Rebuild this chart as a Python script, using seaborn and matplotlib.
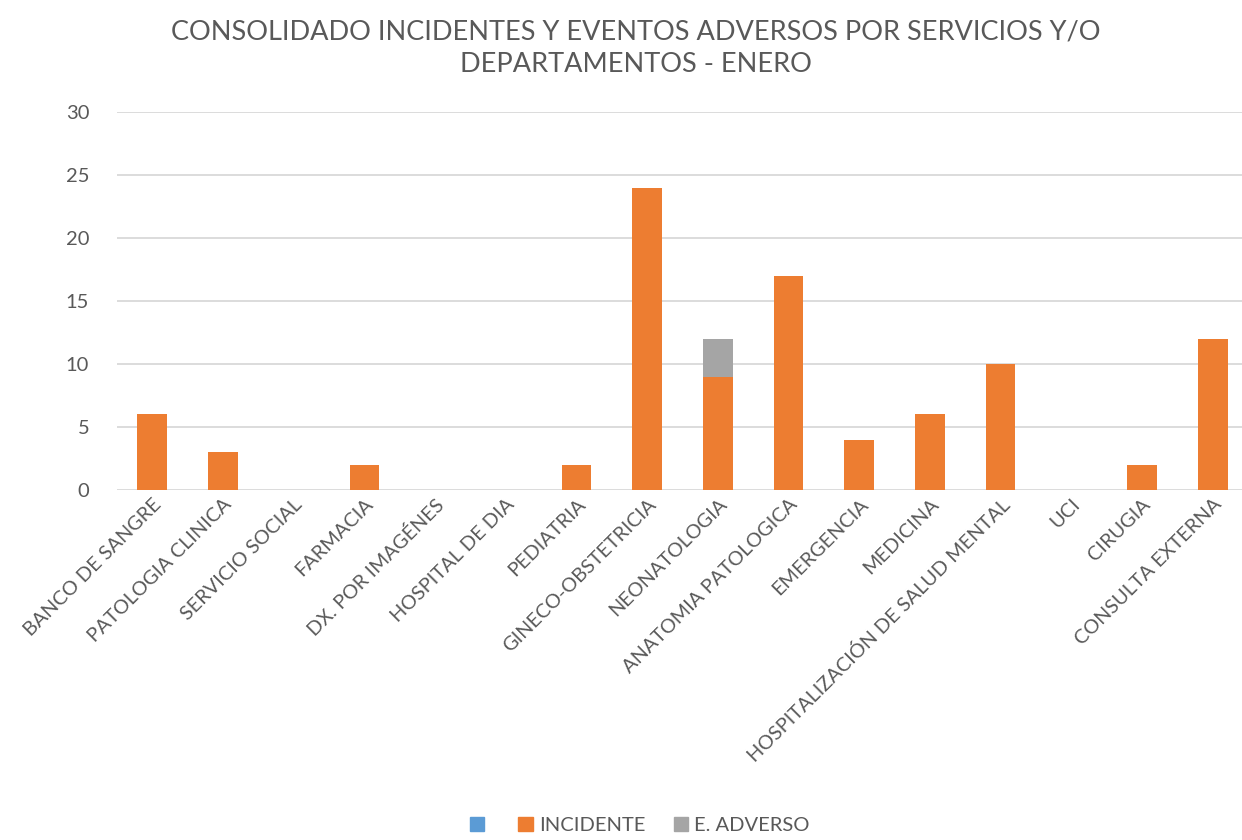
import matplotlib
matplotlib.use("Agg")
import matplotlib.pyplot as plt
import seaborn as sns
import pandas as pd
from matplotlib.patches import Patch

categories = ["BANCO DE SANGRE", "PATOLOGIA CLINICA", "SERVICIO SOCIAL", "FARMACIA",
              "DX. POR IMAGÉNES", "HOSPITAL DE DIA", "PEDIATRIA", "GINECO-OBSTETRICIA",
              "NEONATOLOGIA", "ANATOMIA PATOLOGICA", "EMERGENCIA", "MEDICINA",
              "HOSPITALIZACIÓN DE SALUD MENTAL", "UCI", "CIRUGIA", "CONSULTA EXTERNA"]
serie_blank = [0, 0, 0, 0, 0, 0, 0, 0, 0, 0, 0, 0, 0, 0, 0, 0]
incidente = [6, 3, 0, 2, 0, 0, 2, 24, 9, 17, 4, 6, 10, 0, 2, 12]
e_adverso = [0, 0, 0, 0, 0, 0, 0, 0, 3, 0, 0, 0, 0, 0, 0, 0]
yticks = [0, 5, 10, 15, 20, 25, 30]

sns.set_theme(style="white")
plt.rcParams['font.family'] = ['Lato', 'DejaVu Sans']

C_BLUE = "#5B9BD5"
C_ORANGE = "#ED7D31"
C_GRAY = "#A5A5A5"
TXT = "#595959"

df = pd.DataFrame({
    "cat": categories,
    "blank": serie_blank,
    "inc": incidente,
    "adv": e_adverso,
})
df["base_inc"] = df["blank"] + df["inc"]
df["total"] = df["base_inc"] + df["adv"]

fig = plt.figure(figsize=(12.42, 8.4), dpi=100)
ax = fig.add_axes([117/1242, 1 - 490/840, (1248 - 117)/1242, (490 - 112)/840])

w = 0.42
sns.barplot(data=df, x="cat", y="total", color=C_GRAY, width=w, ax=ax,
            saturation=1, linewidth=0, order=categories)
sns.barplot(data=df, x="cat", y="base_inc", color=C_ORANGE, width=w, ax=ax,
            saturation=1, linewidth=0, order=categories)
sns.barplot(data=df, x="cat", y="blank", color=C_BLUE, width=w, ax=ax,
            saturation=1, linewidth=0, order=categories)

ax.set_ylim(0, 30)
ax.set_xlim(-0.5, len(categories) - 0.5)
ax.set_yticks(yticks)
ax.set_yticklabels([str(v) for v in yticks], fontsize=14.5, color=TXT)
ax.yaxis.grid(True, color="#D9D9D9", linewidth=1.3)
ax.set_axisbelow(True)
for s in ax.spines.values():
    s.set_visible(False)
ax.tick_params(axis="y", length=0, pad=20)
ax.tick_params(axis="x", length=0, pad=4)
ax.set_xticks(range(len(categories)))
ax.set_xticklabels(categories, rotation=45, ha="right", rotation_mode="anchor",
                   fontsize=14.3, color=TXT)
ax.set_xlabel("")
ax.set_ylabel("")

fig.text(0.512, 0.977, "CONSOLIDADO INCIDENTES Y EVENTOS ADVERSOS POR SERVICIOS Y/O\nDEPARTAMENTOS - ENERO",
         ha="center", va="top", fontsize=19.5, color=TXT, linespacing=1.4)

handles = [Patch(color=C_BLUE, label=""), Patch(color=C_ORANGE, label="INCIDENTE"),
           Patch(color=C_GRAY, label="E. ADVERSO")]
fig.legend(handles=handles, loc="center", bbox_to_anchor=(0.515, 0.017), ncol=3,
           frameon=False, fontsize=14.5, labelcolor=TXT, handlelength=0.72,
           handleheight=0.72, handletextpad=0.3, columnspacing=1.4)

fig.savefig("out.png", dpi=100)
